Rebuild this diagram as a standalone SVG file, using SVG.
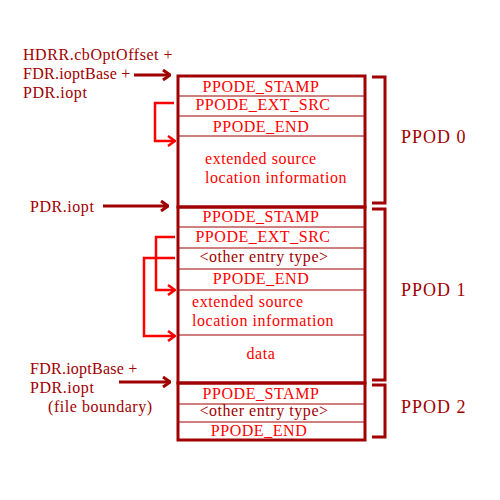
<svg xmlns="http://www.w3.org/2000/svg" width="500" height="500" viewBox="0 0 500 500">
<style>
text{font-family:"Liberation Serif","Times New Roman",serif;font-size:16px;letter-spacing:0.55px}
.dk{fill:#a00000}
.rd{fill:#ff0000}
.mid{text-anchor:middle}
.big{font-size:18px;letter-spacing:1px}
.nar{letter-spacing:0.25px}
.thick{stroke:#a00000;stroke-width:3;fill:none}
.thin{stroke:#a00000;stroke-width:1;fill:none}
.arr{stroke:#a00000;stroke-width:3;fill:none}
.loop{stroke:#ff0000;stroke-width:2.5;fill:none}
</style>
<defs>
<marker id="ah" viewBox="0 0 10 12" refX="9" refY="6" markerWidth="10" markerHeight="12" markerUnits="userSpaceOnUse" orient="auto">
<path d="M2,1 L9,6 L2,11" fill="none" stroke="#a00000" stroke-width="3"/>
</marker>
<marker id="ahr" viewBox="0 0 10 12" refX="9" refY="6" markerWidth="10" markerHeight="12" markerUnits="userSpaceOnUse" orient="auto">
<path d="M2,1 L9,6 L2,11" fill="none" stroke="#ff0000" stroke-width="2.5"/>
</marker>
</defs>
<rect width="500" height="500" fill="#ffffff"/>

<g id="ppod0">
<rect x="178" y="76" width="187" height="131" class="thick"/>
<line x1="178" y1="96" x2="365" y2="96" class="thin"/>
<line x1="178" y1="116" x2="365" y2="116" class="thin"/>
<line x1="178" y1="136" x2="365" y2="136" class="thin"/>
<text x="261" y="92" class="rd mid">PPODE_STAMP</text>
<text x="263" y="110" class="rd mid">PPODE_EXT_SRC</text>
<text x="261" y="132" class="rd mid">PPODE_END</text>
<text x="205" y="164" class="rd">extended source</text>
<text x="205" y="183" class="rd">location information</text>
</g>

<g id="ppod1">
<rect x="178" y="207" width="187" height="176" class="thick"/>
<line x1="178" y1="227" x2="365" y2="227" class="thin"/>
<line x1="178" y1="248" x2="365" y2="248" class="thin"/>
<line x1="178" y1="269" x2="365" y2="269" class="thin"/>
<line x1="178" y1="290" x2="365" y2="290" class="thin"/>
<line x1="178" y1="335" x2="365" y2="335" class="thin"/>
<text x="261" y="222" class="rd mid">PPODE_STAMP</text>
<text x="263" y="242" class="rd mid">PPODE_EXT_SRC</text>
<text x="264" y="262" class="dk mid">&lt;other entry type&gt;</text>
<text x="261" y="284" class="rd mid">PPODE_END</text>
<text x="192" y="307" class="rd">extended source</text>
<text x="192" y="326" class="rd">location information</text>
<text x="261" y="359" class="rd mid">data</text>
</g>

<g id="ppod2">
<rect x="178" y="383" width="187" height="57" class="thick"/>
<line x1="178" y1="404" x2="365" y2="404" class="thin"/>
<line x1="178" y1="422" x2="365" y2="422" class="thin"/>
<text x="261" y="399" class="rd mid">PPODE_STAMP</text>
<text x="264" y="416" class="dk mid">&lt;other entry type&gt;</text>
<text x="259" y="436" class="rd mid">PPODE_END</text>
</g>

<g id="brackets">
<path d="M372,77 H385 V203 H372" class="thick"/>
<path d="M372,209 H385 V380 H372" class="thick"/>
<path d="M372,385 H385 V437 H372" class="thick"/>
<text x="401" y="143" class="dk big">PPOD 0</text>
<text x="401" y="296" class="dk big">PPOD 1</text>
<text x="401" y="413" class="dk big">PPOD 2</text>
</g>

<g id="labels">
<text x="23" y="60" class="dk">HDRR.cbOptOffset +</text>
<text x="23" y="79" class="dk nar">FDR.ioptBase +</text>
<text x="23" y="98" class="dk">PDR.iopt</text>
<text x="30" y="212" class="dk">PDR.iopt</text>
<text x="30" y="374" class="dk nar">FDR.ioptBase +</text>
<text x="30" y="393" class="dk">PDR.iopt</text>
<text x="48" y="412" class="dk">(file boundary)</text>
</g>

<g id="connectors">
<line x1="134" y1="75" x2="170" y2="75" class="arr" marker-end="url(#ah)"/>
<line x1="103" y1="206" x2="168" y2="206" class="arr" marker-end="url(#ah)"/>
<line x1="119" y1="382" x2="170" y2="382" class="arr" marker-end="url(#ah)"/>
<path d="M174,103 H155 V141 H175" class="loop" marker-end="url(#ahr)"/>
<path d="M175,237 H156 V290 H175" class="loop" marker-end="url(#ahr)"/>
<path d="M175,258 H144 V336 H175" class="loop" marker-end="url(#ahr)"/>
</g>
</svg>
